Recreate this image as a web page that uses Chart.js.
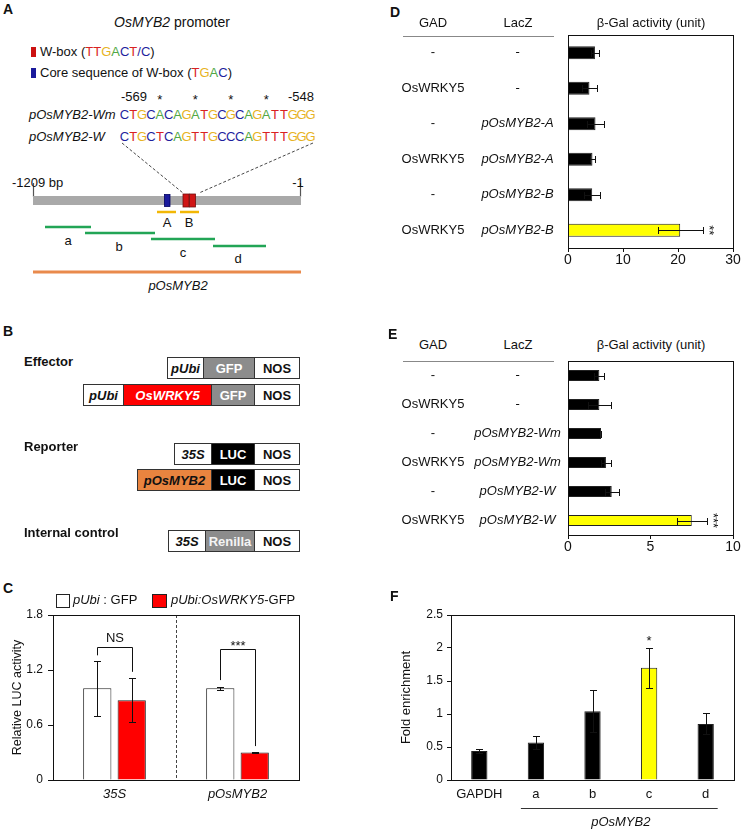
<!DOCTYPE html>
<html>
<head>
<meta charset="utf-8">
<script src="https://cdn.jsdelivr.net/npm/chart.js@4.4.1/dist/chart.umd.min.js"></script>
<style>
  body { margin: 0; background: #fff; font-family: "Liberation Sans", Arial, sans-serif; color: #111; }
  #page { position: relative; width: 742px; height: 831px; overflow: hidden; }
  .abs { position: absolute; white-space: nowrap; }
  canvas { position: absolute; }
  .row { position: absolute; display: flex; height: 22px; border: 1.5px solid #333; box-sizing: border-box; }
  .row div { display: flex; align-items: center; justify-content: center; font-weight: bold; font-size: 13px;
             border-right: 1.5px solid #333; box-sizing: border-box; height: 100%; }
  .row div:last-child { border-right: none; }
  .hline { position: absolute; height: 1px; background: #888; }
</style>
</head>
<body>
<div id="page">
  <svg class="abs" style="left:0;top:0" width="370" height="310">
    <rect x="31" y="47" width="5" height="10" fill="#cc1111"/>
    <rect x="31" y="68" width="5" height="10" fill="#1a1a9c"/>
    <line x1="122" y1="143" x2="183" y2="193" stroke="#333" stroke-width="0.9" stroke-dasharray="3 2"/>
    <line x1="313" y1="143" x2="199" y2="193" stroke="#333" stroke-width="0.9" stroke-dasharray="3 2"/>
    <line x1="33.5" y1="183" x2="33.5" y2="197" stroke="#555" stroke-width="1.2"/>
    <line x1="300.5" y1="183" x2="300.5" y2="197" stroke="#555" stroke-width="1.2"/>
    <rect x="33" y="196" width="268" height="9" fill="#a9a9a9"/>
    <rect x="164.5" y="194.5" width="5.5" height="12" fill="#1a1a9c" stroke="#000060" stroke-width="0.8"/>
    <rect x="183" y="194" width="6" height="13" fill="#d01515" stroke="#701010" stroke-width="0.8"/>
    <rect x="189.5" y="194" width="6" height="13" fill="#d01515" stroke="#701010" stroke-width="0.8"/>
    <g stroke="#f2b705" stroke-width="2.5">
      <line x1="157" y1="212" x2="176" y2="212"/>
      <line x1="180" y1="212" x2="199" y2="212"/>
    </g>
    <g stroke="#22a556" stroke-width="2.5">
      <line x1="45" y1="227" x2="91" y2="227"/>
      <line x1="85" y1="233" x2="155" y2="233"/>
      <line x1="151" y1="239" x2="215" y2="239"/>
      <line x1="213" y1="246" x2="266" y2="246"/>
    </g>
    <line x1="33" y1="272" x2="301" y2="272" stroke="#e98a4c" stroke-width="3"/>
  </svg>

  <div class="row" style="left:167px;top:357px"><div style="width:36px"><i>pUbi</i></div><div style="width:51px;background:#8c8c8c;color:#fff">GFP</div><div style="width:44px">NOS</div></div>
  <div class="row" style="left:83px;top:384px"><div style="width:40px"><i>pUbi</i></div><div style="width:88px;background:#ff0000;color:#fff"><i>OsWRKY5</i></div><div style="width:43px;background:#8c8c8c;color:#fff">GFP</div><div style="width:44px">NOS</div></div>
  <div class="row" style="left:174px;top:443px"><div style="width:37px"><i>35S</i></div><div style="width:43px;background:#000;color:#fff">LUC</div><div style="width:44px">NOS</div></div>
  <div class="row" style="left:137px;top:469px"><div style="width:74px;background:#e9843f"><i>pOsMYB2</i></div><div style="width:43px;background:#000;color:#fff">LUC</div><div style="width:44px">NOS</div></div>
  <div class="row" style="left:168px;top:530px"><div style="width:37px"><i>35S</i></div><div style="width:49px;background:#8c8c8c;color:#f4f4f4">Renilla</div><div style="width:44px">NOS</div></div>

  <div class="abs" style="left:56px;top:594px;width:12px;height:12px;border:1px solid #222;background:#fff"></div>
  <div class="abs" style="left:152px;top:594px;width:13px;height:12px;border:1px solid #222;background:#ff0000"></div>

  <div class="hline" style="left:403px;top:36px;width:151px"></div>
  <div class="hline" style="left:403px;top:361px;width:151px"></div>

  <canvas id="chartC" width="310" height="200" style="left:0;top:605px"></canvas>
  <canvas id="chartD" width="347" height="248" style="left:395px;top:28px"></canvas>
  <canvas id="chartE" width="347" height="209" style="left:395px;top:354px"></canvas>
  <canvas id="chartF" width="347" height="226" style="left:395px;top:605px"></canvas>
</div>

<script>
// ---- data ----
// C: dual luciferase assay
const lucCategories = ['35S', 'pOsMYB2'];
const lucGfp = [1.0, 1.0];
const lucGfpErr = [0.30, 0.015];
const lucWrky = [0.87, 0.30];
const lucWrkyErr = [0.24, 0.006];
const lucSig = ['NS', '***'];
const lucBracketTop = [1.45, 1.43];
const lucBracketLeft = [1.36, 1.09];
const lucBracketRight = [1.18, 0.37];

// D: yeast one-hybrid, fragments A/B
const gadD = ['-', 'OsWRKY5', '-', 'OsWRKY5', '-', 'OsWRKY5'];
const laczD = ['-', '-', 'pOsMYB2-A', 'pOsMYB2-A', 'pOsMYB2-B', 'pOsMYB2-B'];
const galD = [4.9, 3.9, 5.0, 4.45, 4.4, 20.4];
const galDErr = [0.7, 1.4, 1.55, 0.4, 1.5, 4.1];
const sigD = ['', '', '', '', '', '**'];

// E: yeast one-hybrid, W-box mutant
const gadE = ['-', 'OsWRKY5', '-', 'OsWRKY5', '-', 'OsWRKY5'];
const laczE = ['-', '-', 'pOsMYB2-Wm', 'pOsMYB2-Wm', 'pOsMYB2-W', 'pOsMYB2-W'];
const galE = [1.9, 1.9, 2.0, 2.3, 2.65, 7.5];
const galEErr = [0.3, 0.68, 0.03, 0.33, 0.42, 0.92];
const sigE = ['', '', '', '', '', '***'];

// F: ChIP-qPCR
const chipCategories = ['GAPDH', 'a', 'b', 'c', 'd'];
const chipFold = [0.44, 0.57, 1.04, 1.70, 0.85];
const chipErr = [0.035, 0.10, 0.32, 0.30, 0.16];
const chipSig = ['', '', '', '*', ''];

// sequences in panel A
const seqWm = 'CTGCACAGATGCGCAGATTGGG';
const seqW = 'CTGCTCAGTTGCCCAGTTTGGG';
const baseColor = { A: '#52a845', C: '#1f1f9e', G: '#e7b323', T: '#d92222' };

// ---- static text ----
const page = document.getElementById('page');
function txt(html, x, cy, o = {}) {
  const fs = o.size || 13;
  const el = document.createElement('div');
  el.className = 'abs';
  el.style.left = x + 'px';
  el.style.top = (cy - 0.59 * fs) + 'px';
  el.style.fontSize = fs + 'px';
  el.style.lineHeight = (1.2 * fs) + 'px';
  if (o.bold) el.style.fontWeight = 'bold';
  if (o.italic) el.style.fontStyle = 'italic';
  if (o.align === 'center') el.style.transform = 'translateX(-50%)';
  if (o.align === 'right') el.style.transform = 'translateX(-100%)';
  el.innerHTML = html;
  page.appendChild(el);
}
const col = s => s.split('').map(c => `<span style="color:${baseColor[c] || '#1f1f9e'}">${c}</span>`).join('');

txt('A', 3, 9, { size: 14, bold: true });
txt('B', 3, 331, { size: 14, bold: true });
txt('C', 3, 588, { size: 14, bold: true });
txt('D', 390, 12.5, { size: 14, bold: true });
txt('E', 388, 334, { size: 14, bold: true });
txt('F', 390, 596.5, { size: 14, bold: true });

txt('<i>OsMYB2</i> promoter', 172, 22, { size: 14, align: 'center' });
txt('W-box (' + col('TTGACT/C') + ')', 40, 52);
txt('Core sequence of W-box (' + col('TGAC') + ')', 40, 73);
txt('-569', 121, 97);
[4, 8, 12, 16].forEach(i => txt('*', 120 + (i + 0.5) * 8.86, 100, { align: 'center' }));
txt('-548', 314, 97, { align: 'right' });
txt('pOsMYB2-Wm', 29, 115, { italic: true });
txt('pOsMYB2-W', 29, 137, { italic: true });
[seqWm, seqW].forEach((s, r) => s.split('').forEach((c, i) =>
  txt(col(c), 120 + (i + 0.5) * 8.86, 115 + r * 22, { align: 'center' })));
txt('-1209 bp', 12, 183);
txt('-1', 298, 183, { align: 'center' });
txt('A', 167, 223, { align: 'center' });
txt('B', 189, 223, { align: 'center' });
txt('a', 68, 241, { align: 'center' });
txt('b', 119, 247, { align: 'center' });
txt('c', 183, 253, { align: 'center' });
txt('d', 238, 259, { align: 'center' });
txt('pOsMYB2', 178, 286, { italic: true, align: 'center' });

txt('Effector', 24, 362, { bold: true });
txt('Reporter', 24, 447, { bold: true });
txt('Internal control', 24, 533, { bold: true });

txt('<i>pUbi</i> : GFP', 73, 600);
txt('<i>pUbi:OsWRKY5</i>-GFP', 171, 600);

[23, 345].forEach(cy => {
  txt('GAD', 433, cy, { align: 'center' });
  txt('LacZ', 518, cy, { align: 'center' });
  txt('β-Gal activity (unit)', 651, cy, { align: 'center' });
});

// ---- chart helpers ----
Chart.defaults.font.family = '"Liberation Sans", Arial, sans-serif';
Chart.defaults.font.size = 13;
Chart.defaults.color = '#111';

const fixY = w => s => { s.width = w; s.paddingTop = 0; s.paddingBottom = 0; };
const fixX = h => s => { s.height = h; s.paddingLeft = 0; s.paddingRight = 0; };
const px = v => Math.round(v) + 0.5;
const plain = v => String(+(+v).toFixed(2));

const frame = {
  id: 'frame',
  afterDraw(chart) {
    const { ctx, chartArea: a } = chart;
    ctx.save();
    ctx.strokeStyle = '#111';
    ctx.lineWidth = 1;
    ctx.strokeRect(px(a.left), px(a.top), Math.round(a.right - a.left), Math.round(a.bottom - a.top));
    ctx.restore();
  }
};

const errorBars = {
  id: 'errorBars',
  afterDatasetsDraw(chart, args, opts) {
    const ctx = chart.ctx;
    const horiz = chart.options.indexAxis === 'y';
    const vs = horiz ? chart.scales.x : chart.scales.y;
    const c = opts.cap / 2;
    ctx.save();
    ctx.strokeStyle = '#111';
    ctx.lineWidth = 1;
    chart.data.datasets.forEach((ds, di) => {
      if (!ds.errors) return;
      chart.getDatasetMeta(di).data.forEach((bar, i) => {
        const v = ds.data[i], e = ds.errors[i];
        const a = px(vs.getPixelForValue(v - e)), b = px(vs.getPixelForValue(v + e));
        ctx.beginPath();
        if (horiz) {
          const y = px(bar.y);
          ctx.moveTo(a, y); ctx.lineTo(b, y);
          ctx.moveTo(a, y - c); ctx.lineTo(a, y + c);
          ctx.moveTo(b, y - c); ctx.lineTo(b, y + c);
        } else {
          const x = px(bar.x);
          ctx.moveTo(x, a); ctx.lineTo(x, b);
          ctx.moveTo(x - c, a); ctx.lineTo(x + c, a);
          ctx.moveTo(x - c, b); ctx.lineTo(x + c, b);
        }
        ctx.stroke();
      });
    });
    ctx.restore();
  }
};

// ---- C ----
const lucExtras = {
  id: 'lucExtras',
  afterDatasetsDraw(chart) {
    const { ctx, chartArea, scales: { x, y } } = chart;
    const mid = px((x.getPixelForValue(0) + x.getPixelForValue(1)) / 2);
    ctx.save();
    ctx.strokeStyle = '#444';
    ctx.lineWidth = 1;
    ctx.setLineDash([3, 2]);
    ctx.beginPath(); ctx.moveTo(mid, chartArea.top); ctx.lineTo(mid, chartArea.bottom); ctx.stroke();
    ctx.setLineDash([]);
    ctx.strokeStyle = '#111';
    ctx.fillStyle = '#111';
    ctx.font = '13px "Liberation Sans", Arial, sans-serif';
    ctx.textAlign = 'center';
    ctx.textBaseline = 'alphabetic';
    const m0 = chart.getDatasetMeta(0), m1 = chart.getDatasetMeta(1);
    lucSig.forEach((s, i) => {
      const xa = px(m0.data[i].x), xb = px(m1.data[i].x);
      const yt = px(y.getPixelForValue(lucBracketTop[i]));
      ctx.beginPath();
      ctx.moveTo(xa, y.getPixelForValue(lucBracketLeft[i]));
      ctx.lineTo(xa, yt); ctx.lineTo(xb, yt);
      ctx.lineTo(xb, y.getPixelForValue(lucBracketRight[i]));
      ctx.stroke();
      ctx.fillText(s, (xa + xb) / 2, /^\*+$/.test(s) ? yt : yt - 6);
    });
    ctx.restore();
  }
};

new Chart(document.getElementById('chartC'), {
  type: 'bar',
  data: {
    labels: lucCategories,
    datasets: [
      { label: 'pUbi : GFP', data: lucGfp, errors: lucGfpErr, backgroundColor: '#fff', borderColor: '#222', borderWidth: 1 },
      { label: 'pUbi:OsWRKY5-GFP', data: lucWrky, errors: lucWrkyErr, backgroundColor: '#ff0000', borderColor: '#222', borderWidth: 1 }
    ]
  },
  options: {
    responsive: false,
    animation: false,
    layout: { padding: { top: 10, right: 11, left: 0, bottom: 0 } },
    datasets: { bar: { categoryPercentage: 0.56, barPercentage: 0.82 } },
    plugins: { legend: { display: false }, tooltip: { enabled: false }, errorBars: { cap: 7 } },
    scales: {
      x: {
        grid: { display: false, drawTicks: false }, border: { display: false },
        ticks: { padding: 7, font: { style: 'italic', size: 13 } },
        afterFit: fixX(25)
      },
      y: {
        min: 0, max: 1.8,
        ticks: { stepSize: 0.6, padding: 5, font: { size: 12 }, callback: plain },
        grid: { drawOnChartArea: false, tickLength: 5, color: '#111' }, border: { display: false },
        title: { display: true, text: 'Relative LUC activity', padding: { top: 10, bottom: 0 }, font: { size: 12.5 } },
        afterFit: fixY(53)
      }
    }
  },
  plugins: [frame, errorBars, lucExtras]
});

// ---- D / E ----
const rowLabels = {
  id: 'rowLabels',
  afterDraw(chart, args, opts) {
    const { ctx, scales: { y } } = chart;
    ctx.save();
    ctx.fillStyle = '#111';
    ctx.textAlign = 'center';
    ctx.textBaseline = 'middle';
    opts.cols.forEach(c => {
      ctx.font = (c.italic ? 'italic ' : '') + '13px "Liberation Sans", Arial, sans-serif';
      c.labels.forEach((t, i) => ctx.fillText(t, c.x, y.getPixelForValue(i)));
    });
    ctx.restore();
  }
};

const sideStars = {
  id: 'sideStars',
  afterDatasetsDraw(chart, args, opts) {
    const { ctx, scales: { x } } = chart;
    const ds = chart.data.datasets[0];
    ctx.save();
    ctx.fillStyle = '#111';
    ctx.font = '13px "Liberation Sans", Arial, sans-serif';
    ctx.textAlign = 'center';
    ctx.textBaseline = 'middle';
    chart.getDatasetMeta(0).data.forEach((bar, i) => {
      if (!opts.sig[i]) return;
      ctx.save();
      ctx.translate(x.getPixelForValue(ds.data[i] + ds.errors[i]) + 6, bar.y);
      ctx.rotate(Math.PI / 2);
      ctx.fillText(opts.sig[i], 0, 0);
      ctx.restore();
    });
    ctx.restore();
  }
};

function galChart(id, gad, lacz, vals, errs, sig, max, step, pct) {
  new Chart(document.getElementById(id), {
    type: 'bar',
    data: {
      labels: lacz,
      datasets: [{
        data: vals, errors: errs,
        backgroundColor: sig.map(s => s ? '#ffff00' : '#000'),
        borderColor: '#222', borderWidth: 1, borderSkipped: 'start'
      }]
    },
    options: {
      indexAxis: 'y',
      responsive: false,
      animation: false,
      layout: { padding: { top: 7, right: 9, left: 0, bottom: 0 } },
      datasets: { bar: { categoryPercentage: pct, barPercentage: 0.9 } },
      plugins: {
        legend: { display: false }, tooltip: { enabled: false },
        errorBars: { cap: 7 }, sideStars: { sig },
        rowLabels: { cols: [{ labels: gad, x: 38 }, { labels: lacz, x: 122.5, italic: true }] }
      },
      scales: {
        x: {
          min: 0, max,
          ticks: { stepSize: step, padding: 0, font: { size: 14 } },
          grid: { drawOnChartArea: false, tickLength: 4, color: '#111' }, border: { display: false },
          afterFit: fixX(28)
        },
        y: {
          ticks: { display: false }, grid: { display: false, drawTicks: false }, border: { display: false },
          afterFit: fixY(173)
        }
      }
    },
    plugins: [frame, errorBars, sideStars, rowLabels]
  });
}
galChart('chartD', gadD, laczD, galD, galDErr, sigD, 30, 10, 0.4);
galChart('chartE', gadE, laczE, galE, galEErr, sigE, 10, 5, 0.42);

// ---- F ----
const chipExtras = {
  id: 'chipExtras',
  afterDatasetsDraw(chart) {
    const { ctx, chartArea, scales: { x, y } } = chart;
    const ds = chart.data.datasets[0];
    ctx.save();
    ctx.fillStyle = '#111';
    ctx.strokeStyle = '#333';
    ctx.lineWidth = 1;
    ctx.font = '13px "Liberation Sans", Arial, sans-serif';
    ctx.textAlign = 'center';
    ctx.textBaseline = 'alphabetic';
    chipSig.forEach((s, i) => {
      if (s) ctx.fillText(s, x.getPixelForValue(i), y.getPixelForValue(ds.data[i] + ds.errors[i]) - 3);
    });
    const x1 = x.getPixelForValue(1), x2 = x.getPixelForValue(chipCategories.length - 1);
    const yl = px(chartArea.bottom + 28);
    ctx.beginPath(); ctx.moveTo(x1 - 15, yl); ctx.lineTo(x2 + 12, yl); ctx.stroke();
    ctx.font = 'italic 13px "Liberation Sans", Arial, sans-serif';
    ctx.textBaseline = 'middle';
    ctx.fillText('pOsMYB2', (x1 + x2) / 2, chartArea.bottom + 42);
    ctx.restore();
  }
};

new Chart(document.getElementById('chartF'), {
  type: 'bar',
  data: {
    labels: chipCategories,
    datasets: [{
      data: chipFold, errors: chipErr,
      backgroundColor: chipSig.map(s => s ? '#ffff00' : '#000'),
      borderColor: '#222', borderWidth: 1
    }]
  },
  options: {
    responsive: false,
    animation: false,
    layout: { padding: { top: 10, right: 8, left: 0, bottom: 0 } },
    datasets: { bar: { categoryPercentage: 0.32, barPercentage: 0.9 } },
    plugins: { legend: { display: false }, tooltip: { enabled: false }, errorBars: { cap: 7 } },
    scales: {
      x: {
        grid: { display: false, drawTicks: false }, border: { display: false },
        ticks: { padding: 7, font: { size: 13 } },
        afterFit: fixX(51)
      },
      y: {
        min: 0, max: 2.5,
        ticks: { stepSize: 0.5, padding: 4, font: { size: 12 }, callback: plain },
        grid: { drawOnChartArea: false, tickLength: 4, color: '#111' }, border: { display: false },
        title: { display: true, text: 'Fold enrichment', padding: { top: 4, bottom: 0 }, font: { size: 13 } },
        afterFit: fixY(56)
      }
    }
  },
  plugins: [frame, errorBars, chipExtras]
});
</script>
</body>
</html>
